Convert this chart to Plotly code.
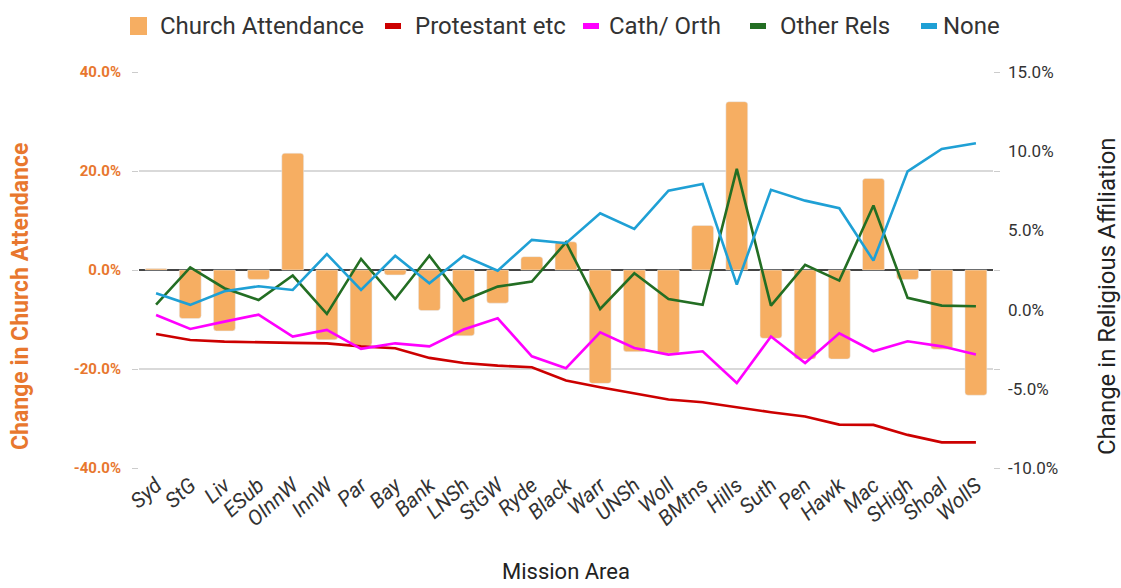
import plotly.graph_objects as go

areas = ["Syd", "StG", "Liv", "ESub", "OInnW", "InnW", "Par", "Bay", "Bank", "LNSh",
         "StGW", "Ryde", "Black", "Warr", "UNSh", "Woll", "BMtns", "Hills", "Suth", "Pen",
         "Hawk", "Mac", "SHigh", "Shoal", "WollS"]

church_attendance = [0.3, -9.8, -12.3, -1.9, 23.6, -14.1, -15.3, -1.0, -8.2, -13.3,
                     -6.7, 2.7, 5.7, -22.9, -16.5, -16.8, 9.0, 34.0, -13.8, -18.0,
                     -18.0, 18.5, -1.9, -16.0, -25.3]

protestant = [-1.54, -1.92, -2.02, -2.08, -2.10, -2.13, -2.32, -2.44, -3.05, -3.37,
              -3.54, -3.64, -4.48, -4.90, -5.28, -5.68, -5.85, -6.17, -6.48, -6.75,
              -7.26, -7.28, -7.91, -8.38, -8.38]

cath_orth = [-0.34, -1.22, -0.76, -0.32, -1.70, -1.28, -2.48, -2.13, -2.32, -1.26,
             -0.55, -2.95, -3.70, -1.43, -2.42, -2.84, -2.63, -4.63, -1.70, -3.37,
             -1.50, -2.63, -2.00, -2.32, -2.84]

other_rels = [0.32, 2.67, 1.35, 0.61, 2.15, -0.27, 3.20, 0.67, 3.40, 0.57,
              1.45, 1.77, 4.25, 0.04, 2.29, 0.67, 0.30, 8.88, 0.25, 2.82,
              1.83, 6.57, 0.74, 0.25, 0.21]

none_rel = [1.03, 0.30, 1.16, 1.47, 1.24, 3.50, 1.24, 3.40, 1.66, 3.40,
            2.46, 4.40, 4.19, 6.08, 5.09, 7.51, 7.93, 1.58, 7.56, 6.88,
            6.40, 3.09, 8.73, 10.14, 10.50]

left_ticks = [-40, -20, 0, 20, 40]
right_ticks = [-10, -5, 0, 5, 10, 15]

FONT = "Roboto"
ORANGE_TXT = "#e8772e"
BAR_COL = "#f6ae62"

series = [("Protestant etc", protestant, "#cc0000"),
          ("Cath/ Orth", cath_orth, "#ff00ff"),
          ("Other Rels", other_rels, "#236e23"),
          ("None", none_rel, "#1fa0d5")]

fig = go.Figure()
fig.add_trace(go.Bar(x=areas, y=church_attendance, name="Church Attendance",
                     marker=dict(color=BAR_COL, cornerradius=3), width=0.64,
                     yaxis="y", showlegend=False))
for name, vals, col in series:
    fig.add_trace(go.Scatter(x=areas, y=vals, name=name, mode="lines",
                             line=dict(color=col, width=2.6), yaxis="y2",
                             showlegend=False))

# ---- layout helpers: screen-pixel positions -> paper coordinates ----
PLOT_L, PLOT_R, PLOT_T, PLOT_B = 139, 993, 72, 468


def px_x(p):
    return (p - PLOT_L) / (PLOT_R - PLOT_L)


def px_y(p):
    return (PLOT_B - p) / (PLOT_B - PLOT_T)


# manual legend (swatch left x, text left x)
legend_items = [("Church Attendance", BAR_COL, "box", 130, 160)] + [
    (name, col, "line", sx, tx) for (name, _, col), sx, tx in
    zip(series, [385, 583, 750, 921], [415, 609, 780, 943])]

shapes = []
annotations = []
for name, col, kind, sx, tx in legend_items:
    if kind == "box":
        y0, y1, w = 17, 35, 17
    else:
        y0, y1, w = 23, 29, 16
    shapes.append(dict(type="rect", xref="paper", yref="paper",
                       x0=px_x(sx), x1=px_x(sx + w), y0=px_y(y1), y1=px_y(y0),
                       fillcolor=col, line=dict(width=0)))
    annotations.append(dict(text=name, xref="paper", yref="paper",
                            x=px_x(tx - 2), y=px_y(26), xanchor="left", yanchor="middle",
                            showarrow=False, font=dict(size=24, color="#333333", family=FONT)))

# axis titles
annotations.append(dict(text="Change in Church Attendance", xref="paper", yref="paper",
                        x=px_x(20), y=px_y(297), xanchor="center", yanchor="middle",
                        textangle=-90, showarrow=False,
                        font=dict(size=23, color=ORANGE_TXT, family=FONT, weight="bold")))
annotations.append(dict(text="Change in Religious Affiliation", xref="paper", yref="paper",
                        x=px_x(1107), y=px_y(296), xanchor="center", yanchor="middle",
                        textangle=-90, showarrow=False,
                        font=dict(size=24, color="#222222", family=FONT)))
annotations.append(dict(text="Mission Area", xref="paper", yref="paper",
                        x=px_x(566), y=px_y(571), xanchor="center", yanchor="middle",
                        showarrow=False,
                        font=dict(size=22, color="#222222", family=FONT)))

fig.update_layout(
    width=1121, height=588,
    margin=dict(l=PLOT_L, r=1121 - PLOT_R, t=PLOT_T, b=588 - PLOT_B, autoexpand=False),
    paper_bgcolor="white", plot_bgcolor="white",
    font=dict(family=FONT, color="#333333"),
    showlegend=False,
    shapes=shapes, annotations=annotations,
    xaxis=dict(
        type="category", tickangle=-42, automargin=False,
        tickfont=dict(size=21, style="italic", color="#333333"),
        showgrid=False, ticks="", showline=False,
    ),
    yaxis=dict(
        range=[-40, 40], tickvals=left_ticks, automargin=False,
        ticktext=[f"{v:.1f}%" for v in left_ticks],
        tickfont=dict(size=15, color=ORANGE_TXT, weight="bold"),
        showgrid=True, gridcolor="#d9d9d9", gridwidth=1.5,
        zeroline=True, zerolinecolor="#444444", zerolinewidth=1.5,
        ticks="outside", ticklen=6, tickcolor="#cccccc", mirror="ticks",
        ticklabelstandoff=8, showline=False,
    ),
    yaxis2=dict(
        overlaying="y", side="right", automargin=False,
        range=[-10, 15], tickvals=right_ticks,
        ticktext=[f"{v:.1f}%" for v in right_ticks],
        tickfont=dict(size=17, color="#333333"),
        showgrid=False, zeroline=False, ticks="", showline=False,
        ticklabelstandoff=14,
    ),
)

fig.write_html(
    "out.html",
    config={"displayModeBar": False},
    post_script=("document.body.style.margin='0px';"
                 "document.body.style.overflow='hidden';"
                 "document.documentElement.style.overflow='hidden';"),
)
